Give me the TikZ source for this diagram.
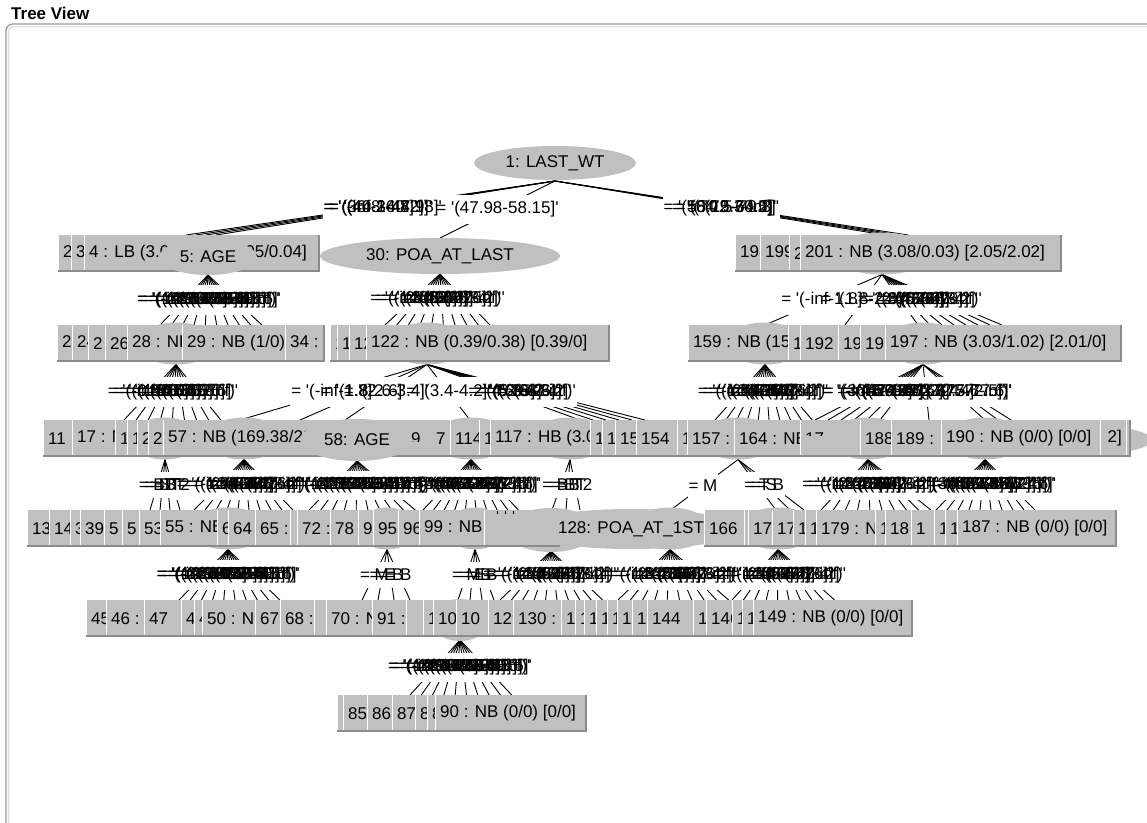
\documentclass[tikz,border=0pt]{standalone}
\usepackage{fontspec}
\newfontfamily\wf{Liberation Sans}
\usetikzlibrary{calc}
\pgfdeclarelayer{back}\pgfdeclarelayer{edges}\pgfdeclarelayer{labbg}\pgfdeclarelayer{labfg}
\pgfsetlayers{back,edges,labbg,labfg,main}
\definecolor{nodegray}{HTML}{C0C0C0}
\definecolor{shadegray}{HTML}{8C8C8C}
\definecolor{panelgray}{HTML}{9A9A9A}
\tikzset{
 bf/.style={fill=nodegray},
 bt/.style={font=\wf\fontsize{17}{20}\selectfont, inner sep=0pt, text=black},
 lab/.style={font=\wf\fontsize{17}{20}\selectfont, inner xsep=1pt, inner ysep=7pt},
 edge/.style={line width=0.9pt, black},
 sep/.style={white, line width=1pt},
 sh/.style={shadegray, line width=1.6pt},
}
\newcommand\edgelab[5]{%
 \begin{pgfonlayer}{edges}\draw[edge] (#1,#2) -- (#3,#4);\end{pgfonlayer}%
 \begin{pgfonlayer}{labbg}\node[lab,fill=white] at ($(#1,#2)!0.5!(#3,#4)$) {\phantom{#5}};\end{pgfonlayer}%
 \begin{pgfonlayer}{labfg}\node[lab] at ($(#1,#2)!0.5!(#3,#4)$) {#5};\end{pgfonlayer}}
\newcommand\fan[6]{\foreach \cl [count=\ci from 0] in #6 {\pgfmathsetmacro\cx{#4+\ci*#5}\edgelab{#1}{#2}{\cx}{#3}{\cl}}}
\newcommand\fanp[4]{\foreach \cx/\cl in {#4} {\edgelab{#1}{#2}{\cx}{#3}{\cl}}}
\newcommand\bx[4]{%
 \fill[bf] (#1,#3) rectangle (#2,{#3+37});
 \begin{scope}\clip (#1,#3) rectangle (#2,{#3+37});
  \node[bt,anchor=west] at ({#1+5},{#3+18.5}) {#4};\end{scope}
 \draw[sep] ({#1+0.5},#3) -- ({#1+0.5},{#3+35.5});
 \draw[sh] (#1,{#3+36.2}) -- (#2,{#3+36.2});}
\newcommand\bxr[2]{\draw[sh] ({#1-0.8},#2) -- ({#1-0.8},{#2+37});}
\newcommand\ovl[6]{\fill[bf] (#2,#3) ellipse [x radius=#4pt, y radius=#5pt]; \node[bt] (#1) at (#2,#3) {#6};}
\newcommand\hid[4]{\fill[bf] (#1,#2) ellipse [x radius=#3pt, y radius=#4pt];}
\newcommand\fragm[5]{\begin{scope}\clip ({#1-3},{#2-20}) rectangle (#4,#5); \node[bt,anchor=west] at (#1,#2) {#3};\end{scope}}
\def\Lage{= '(-inf-19.5]', = '(19.5-22.5]', = '(22.5-25.5]', = '(25.5-28.5]', = '(28.5-31.5]', = '(31.5-34.5]', = '(34.5-37.5]', = '(37.5-40.5]', = '(40.5-43.5]', = '(43.5-inf)'}
\def\Lpoa{= '(-inf-1.8]', = '(1.8-2.6]', = '(2.6-3.4]', = '(3.4-4.2]', = '(4.2-5]', = '(5-5.8]', = '(5.8-6.6]', = '(6.6-7.4]', = '(7.4-8.2]', = '(8.2-inf)'}
\def\Lpar{= '(-inf-0.5]', = '(0.5-1.5]', = '(1.5-2.5]', = '(2.5-3.5]', = '(3.5-4.5]', = '(4.5-5.5]', = '(5.5-6.5]', = '(6.5-7.5]', = '(7.5-inf)'}
\def\Lwt{= '(-inf-36.8]', = '(36.8-41.9]', = '(41.9-47]', = '(47-52.1]', = '(52.1-57.2]', = '(57.2-62.3]', = '(62.3-67.4]', = '(67.4-72.5]', = '(72.5-77.6]', = '(77.6-inf)'}
\def\Lbt{= BB, = BT, = TT, = T2}
\begin{document}
\begin{tikzpicture}[x=1pt,y=-1pt]
\useasboundingbox (0,0) rectangle (1147,822);
\begin{pgfonlayer}{back}\fill[white] (0,0) rectangle (1147,822);\end{pgfonlayer}
% title and panel
\node[font=\wf\bfseries\fontsize{17}{20}\selectfont, anchor=base west, inner sep=0pt] (title) at (11,19.5) {Tree View};
\draw[gray!25, line width=1.5pt, rounded corners=6pt] (8.5,840) -- (8.5,26.5) -- (1170,26.5);
\draw[panelgray, line width=1.3pt, rounded corners=7pt] (6,840) -- (6,24) -- (1170,24);

% ---------- edges and labels ----------
\fanp{555}{181}{235}{186/= '(-inf-36.8]', 196/= '(36.8-40.2]', 206/= '(40.2-44.1]', 216/= '(44.1-47.98]'}
\fanp{555}{181}{238}{440/= '(47.98-58.15]'}
\fanp{555}{181}{235}{885/= '(58.15-64.2]', 893/= '(64.2-70.5]', 900/= '(70.5-79.3]', 908/= '(79.3-inf)'}
\fan{208}{275}{325}{160}{11.33}{\Lage}
\fan{440}{274}{325}{385}{11.67}{\Lpoa}
\fanp{882}{274.5}{325}{765/= '(-inf-1.8]', 845/= '(1.8-2.6]', 918/= '(2.6-3.4]', 930/= '(3.4-4.2]', 942/= '(4.2-5]', 954/= '(5-5.8]', 966/= '(5.8-6.6]', 978/= '(6.6-7.4]', 990/= '(7.4-8.2]', 1002/= '(8.2-inf)'}
\fan{176}{364.5}{420}{124}{12.1}{\Lpar}
\fanp{427}{364.5}{420}{240/= '(-inf-1.8]', 300/= '(1.8-2.6]', 345/= '(2.6-3.4]', 470/= '(3.4-4.2]', 580/= '(4.2-5]', 593/= '(5-5.8]', 606/= '(5.8-6.6]', 619/= '(6.6-7.4]', 632/= '(7.4-8.2]', 645/= '(8.2-inf)'}
\fan{765}{364.5}{420}{715}{10.8}{\Lpoa}
\fanp{923}{364.5}{420}{815/= '(-inf-36.8]', 828/= '(36.8-41.9]', 841/= '(41.9-47]', 854/= '(47-52.1]', 867/= '(52.1-57.2]', 880/= '(57.2-62.3]', 929/= '(62.3-67.4]', 985/= '(67.4-72.5]', 998/= '(72.5-77.6]', 1011/= '(77.6-inf)'}
\fan{165}{459.5}{510}{150}{10}{\Lbt}
\fan{244}{459.5}{510}{194}{11}{\Lpoa}
\fan{357}{461}{510}{309}{11.8}{\Lage}
\fan{471}{459.5}{510}{423}{10.6}{\Lwt}
\fanp{570}{459.5}{510}{552/= BB, 566/= BT, 580/= T2}
\fanp{738}{459.5}{512}{668/= M}
\fanp{738}{459.5}{510}{776/= T, 790/= S, 804/= B}
\fan{868}{459.5}{510}{821}{12.2}{\Lpoa}
\fan{985}{459.5}{510}{936}{11}{\Lwt}
\fan{228}{549.5}{600}{179}{11.2}{\Lage}
\fanp{387}{549.5}{600}{362/= M, 378/= E, 394/= B, 410/= B}
\fanp{475}{549.5}{600}{458/= M, 470/= E, 482/= B, 494/= B}
\fan{551}{551}{600}{500}{11.4}{\Lpoa}
\fan{670}{549.5}{600}{618}{12.3}{\Lpoa}
\fan{778}{549.5}{600}{732}{11.4}{\Lpoa}
\fan{460}{640}{695}{410}{11.3}{\Lage}

% ---------- root ----------
\ovl{root}{555}{163}{81}{17}{1: LAST\_WT}

% ---------- row A ----------
\hid{882}{253.5}{50}{21}
\bx{58}{71}{235}{2 : NB (0/0) [0/0]}
\bx{71}{84}{235}{3 : NB (0/0) [0/0]}
\fill[bf] (84,235) rectangle (320,272);
\draw[sep] (84.5,235) -- (84.5,270.5);
\draw[sh] (84,271.2) -- (320,271.2);
\bxr{320}{235}
\node[bt,anchor=west] (n4a) at (89,253.5) {4 : LB (3.01/0.1)};
\node[bt,anchor=east] (n4b) at (307,253.5) {[1.05/0.04]};
\ovl{age5}{208}{257}{49}{18}{5: AGE}
\ovl{poa30}{440}{256}{120}{18}{30: POA\_AT\_LAST}
\bx{735}{760}{235}{198 : NB (0/0) [0/0]}
\bx{760}{789}{235}{199 : NB (0/0) [0/0]}
\bx{789}{800}{235}{200 : NB}
\bx{800}{1062}{235}{201 : NB (3.08/0.03) [2.05/2.02]}
\bxr{1062}{235}

% ---------- row B ----------
\hid{176}{343.5}{40}{21}\hid{427}{343.5}{40}{21}\hid{765}{343.5}{40}{21}\hid{923}{343.5}{40}{21}
\bx{57}{72}{325}{2 : NB (0/0) [0/0]}
\bx{72}{88}{325}{24 : NB (0/0)}
\bx{88}{105}{325}{2 : NB}
\bx{105}{127}{325}{26 : NB}
\bx{127}{182}{325}{28 : NB (0/0) [0/0]}
\bx{182}{285}{325}{29 : NB (1/0)}
\bx{285}{325}{325}{34 : NB (0/0)}
\bxr{325}{325}
\bx{330}{337}{325}{1}
\bx{337}{349}{325}{1}
\bx{349}{366}{325}{12}
\bx{366}{610}{325}{122 : NB (0.39/0.38) [0.39/0]}
\bxr{610}{325}
\bx{688}{788}{325}{159 : NB (15.2/0.1)}
\bx{788}{800}{325}{1}
\bx{800}{838}{325}{192 :}
\bx{838}{860}{325}{19}
\bx{860}{885}{325}{19}
\bx{885}{1122}{325}{197 : NB (3.03/1.02) [2.01/0]}
\bxr{1122}{325}

% ---------- row C ----------
\hid{1060}{440}{92}{17}
\hid{165}{438.5}{35}{21}\hid{244}{438.5}{40}{21}\hid{471}{438.5}{40}{21}\hid{570}{438.5}{40}{21}
\hid{738}{438.5}{40}{21}\hid{868}{438.5}{40}{21}\hid{985}{438.5}{40}{21}
\bx{43}{72}{420}{11 : NB}
\bx{72}{115}{420}{17 : NB (0/0)}
\bx{115}{127}{420}{1}
\bx{127}{137}{420}{1}
\bx{137}{148}{420}{2}
\bx{148}{163}{420}{2}
\bx{163}{450}{420}{57 : NB (169.38/23}
\ovl{age58}{357}{440}{57}{21}{58: AGE}
\fragm{411}{438.5}{9}{430}{441}
\fragm{436}{438.5}{7}{449}{456}
\bx{450}{479}{420}{114 : NB}
\bx{479}{490}{420}{1}
\bx{490}{590}{420}{117 : HB (3.0}
\bx{590}{602}{420}{1}
\bx{602}{615}{420}{1}
\bx{615}{636}{420}{15}
\bx{636}{677}{420}{154}
\bx{677}{687}{420}{1}
\bx{687}{734}{420}{157 : NB}
\bx{734}{800}{420}{164 : NB}
\bx{800}{860}{420}{}
\fragm{805}{438.5}{17}{840}{435}
\bx{860}{891}{420}{188}
\bx{891}{941}{420}{189 : NB}
\bx{941}{1100}{420}{190 : NB (0/0) [0/0]}
\bx{1100}{1126}{420}{}
\node[bt,anchor=east] (n2end) at (1122,438.5) {2]};
\bx{1126}{1131}{420}{}
\bxr{1131}{420}

% ---------- row D ----------
\hid{228}{528.5}{40}{21}\hid{387}{528.5}{30}{21}\hid{475}{528.5}{30}{21}
\hid{551}{530}{45}{22}\hid{670}{528.5}{40}{21}\hid{778}{528.5}{40}{21}
\bx{27}{49}{510}{13 : NB}
\bx{49}{70}{510}{14 : NB}
\bx{70}{80}{510}{3}
\bx{80}{104}{510}{39}
\bx{104}{122}{510}{5}
\bx{122}{139}{510}{5}
\bx{139}{160}{510}{53}
\bx{160}{217}{510}{55 : NB (0/0)}
\bx{217}{228}{510}{6}
\bx{228}{255}{510}{64}
\bx{255}{290}{510}{65 : NB}
\bx{290}{297}{510}{}
\bx{297}{330}{510}{72 : NB}
\bx{330}{358}{510}{78}
\bx{358}{373}{510}{9}
\bx{373}{398}{510}{95}
\bx{398}{419}{510}{96}
\bx{419}{484}{510}{99 : NB (0/0)}
\bx{484}{560}{510}{}
\foreach \tx in {497,505,513} {\draw[edge] (\tx,511) -- (\tx,514);}
\ovl{poa128}{631}{529}{112}{20}{128: POA\_AT\_1ST}
\bx{704}{744}{510}{166}
\bx{744}{748}{510}{}
\bx{748}{772}{510}{17}
\bx{772}{793}{510}{17}
\bx{793}{805}{510}{1}
\bx{805}{816}{510}{1}
\bx{816}{875}{510}{179 : NB}
\bx{875}{885}{510}{1}
\bx{885}{911}{510}{18}
\bx{911}{934}{510}{1}
\bx{934}{945}{510}{1}
\bx{945}{957}{510}{1}
\bx{957}{1117}{510}{187 : NB (0/0) [0/0]}
\bxr{1117}{510}

% ---------- row E ----------
\hid{460}{620}{30}{21}
\bx{86}{106}{600}{45 : NB}
\bx{106}{144}{600}{46 : NB}
\bx{144}{181}{600}{47}
\bx{181}{194}{600}{4}
\bx{194}{202}{600}{4}
\bx{202}{255}{600}{50 : NB}
\bx{255}{280}{600}{67}
\bx{280}{314}{600}{68 : 69}
\bx{314}{326}{600}{}
\bx{326}{372}{600}{70 : NB}
\bx{372}{406}{600}{91 : 92}
\bx{406}{423}{600}{}
\bx{423}{433}{600}{1}
\bx{433}{456}{600}{10}
\bx{456}{488}{600}{10}
\bx{488}{513}{600}{129}
\bx{513}{561}{600}{130 :}
\bx{561}{575}{600}{1}
\bx{575}{584}{600}{1}
\bx{584}{596}{600}{1}
\bx{596}{607}{600}{1}
\bx{607}{617}{600}{1}
\bx{617}{632}{600}{1}
\bx{632}{647}{600}{1}
\bx{647}{693}{600}{144}
\bx{693}{706}{600}{1}
\bx{706}{732}{600}{146}
\bx{732}{742}{600}{1}
\bx{742}{753}{600}{1}
\bx{753}{913}{600}{149 : NB (0/0) [0/0]}
\bxr{913}{600}

% ---------- row F ----------
\bx{337}{343}{695}{}
\bx{343}{367}{695}{85}
\bx{367}{392}{695}{86}
\bx{392}{415}{695}{87}
\bx{415}{427}{695}{88}
\bx{427}{435}{695}{89}
\bx{435}{587}{695}{90 : NB (0/0) [0/0]}
\bxr{587}{695}
\end{tikzpicture}
\end{document}
